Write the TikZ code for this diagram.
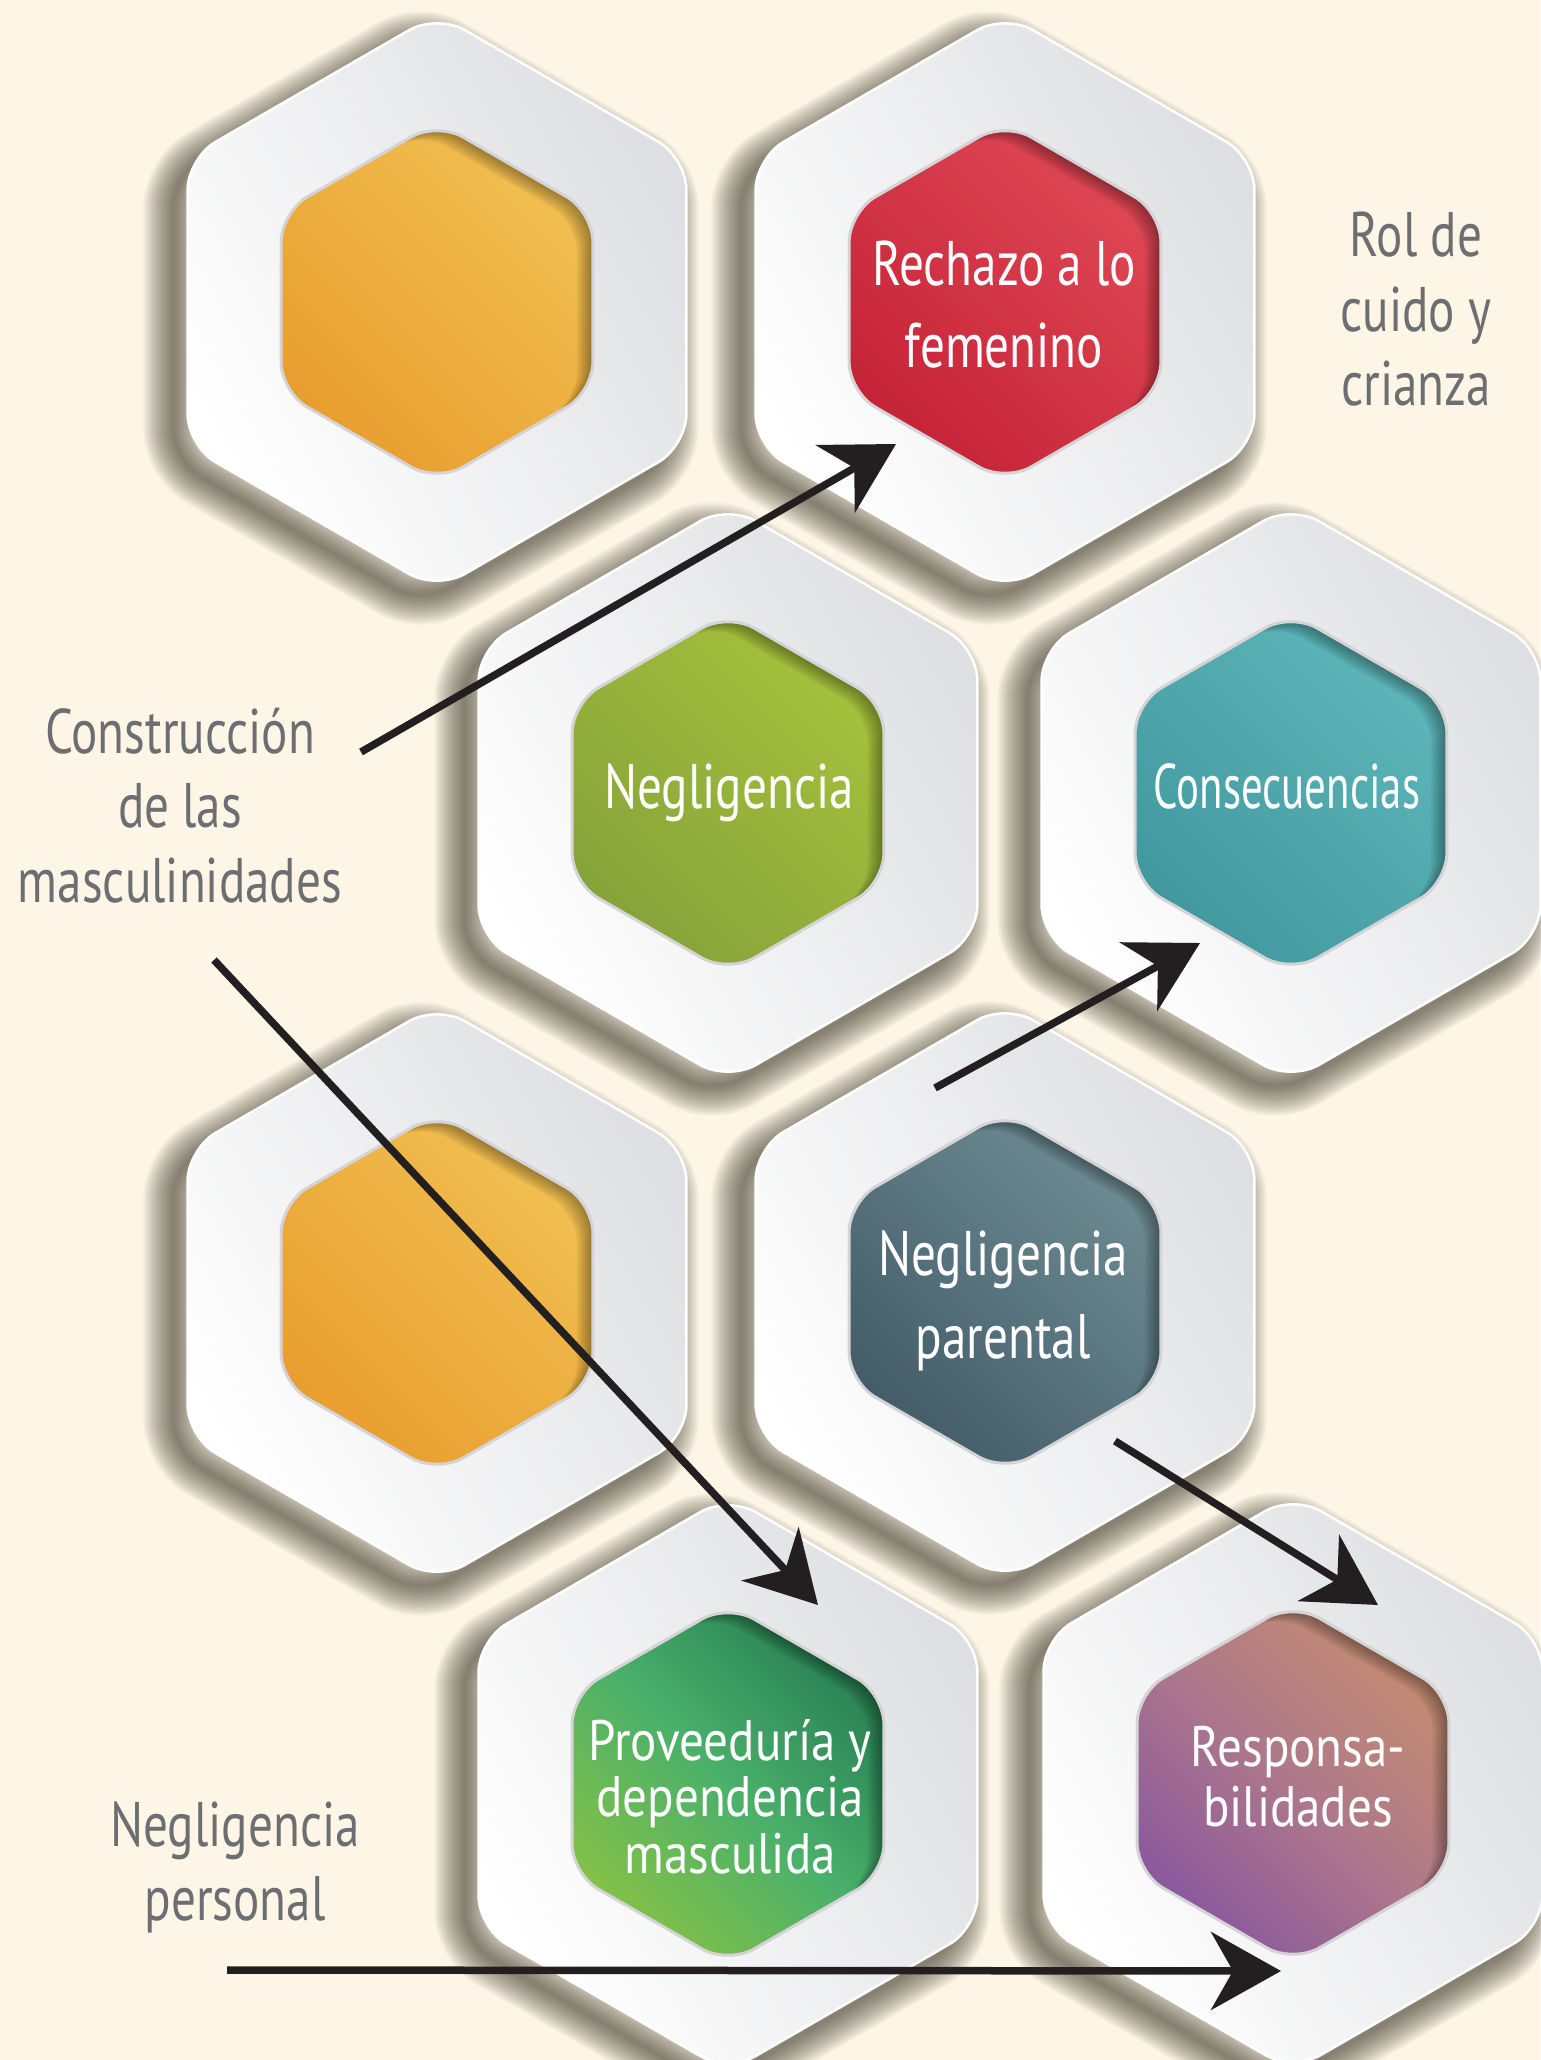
\documentclass[tikz,border=0pt]{standalone}
\usepackage{fontspec}
\setmainfont{PT Sans}[FakeStretch=0.78]
\newfontfamily\narrowfont{PT Sans}[FakeStretch=0.68]
\newfontfamily\widerfont{PT Sans}[FakeStretch=0.86]
\usetikzlibrary{arrows.meta}
\definecolor{bg}{RGB}{253,246,231}
\definecolor{txt}{RGB}{109,110,113}
\definecolor{arrowc}{RGB}{35,31,32}
\definecolor{shad}{RGB}{50,44,32}
\definecolor{plategray}{RGB}{222,223,226}
\definecolor{rimc}{RGB}{212,212,215}
\definecolor{yelD}{RGB}{232,158,46}
\definecolor{yelL}{RGB}{241,192,82}
\definecolor{redD}{RGB}{197,35,54}
\definecolor{redL}{RGB}{223,72,85}
\definecolor{grnD}{RGB}{134,163,59}
\definecolor{grnL}{RGB}{165,193,59}
\definecolor{tealD}{RGB}{65,153,159}
\definecolor{tealL}{RGB}{94,182,186}
\definecolor{slateD}{RGB}{67,92,104}
\definecolor{slateL}{RGB}{110,140,148}
\definecolor{gtwoA}{RGB}{132,193,71}
\definecolor{gtwoB}{RGB}{74,176,106}
\definecolor{gtwoC}{RGB}{40,128,84}
\definecolor{purA}{RGB}{138,88,158}
\definecolor{purB}{RGB}{174,120,138}
\definecolor{purC}{RGB}{196,140,112}
\newcommand{\linesstack}[2]{\vtop{\baselineskip=#1\lineskiplimit=-16000pt\lineskip=0pt\halign{\hfil##\hfil\cr#2\crcr}}}
\newcommand{\hexpathat}[3]{({#1+0.8660254*#3},{#2-0.5*#3}) -- ({#1},{#2-#3}) -- ({#1-0.8660254*#3},{#2-0.5*#3}) -- ({#1-0.8660254*#3},{#2+0.5*#3}) -- ({#1},{#2+#3}) -- ({#1+0.8660254*#3},{#2+0.5*#3}) -- cycle}
\newcommand{\hexcell}[4]{%
  \foreach \w in {3,6,...,60} {\path[shadowlayer, line width=\w pt] \hexpathat{#2-16}{#3+16}{286};}
  \path[outerplate] \hexpathat{#2}{#3}{288};
  \path[innerfill, #4] \hexpathat{#2}{#3}{180};
  \begin{scope}
    \clip[rounded corners=30pt] \hexpathat{#2}{#3}{180};
    \foreach \k in {2,4,...,16} {\fill[black, opacity=0.05, even odd rule, rounded corners=30pt] ({#2-260},{#3-260}) rectangle ({#2+260},{#3+260}) \hexpathat{#2-\k}{#3+0.6*\k}{180};}
  \end{scope}
  \draw[innerrim] \hexpathat{#2}{#3}{180};
  \coordinate (#1) at (#2,#3);
}
\begin{document}
\begin{tikzpicture}[x=1pt,y=-1pt,
  shadowlayer/.style={draw=shad, draw opacity=0.04, rounded corners=32pt, line join=round},
  outerplate/.style={rounded corners=32pt, left color=white, right color=plategray, shading angle=120, draw=white, line width=2.5pt},
  innerfill/.style={rounded corners=30pt},
  innerrim/.style={rounded corners=30pt, draw=rimc, line width=3pt},
  lab/.style={text=txt, font=\fontsize{63}{75}\selectfont, anchor=base, inner sep=0pt},
  wlab/.style={text=white, font=\fontsize{63}{75}\selectfont, anchor=base, inner sep=0pt},
  wsmall/.style={text=white, font=\widerfont\fontsize{57}{60}\selectfont, anchor=base, inner sep=0pt},
  arr/.style={draw=arrowc, line width=7.5pt, -{Stealth[length=70pt,width=78pt,inset=22pt]}}]
\useasboundingbox (0,0) rectangle (1540,2060);
\fill[bg] (0,0) rectangle (1540,2060);

\hexcell{hA}{437}{302}{left color=yelD, right color=yelL, shading angle=135}
\hexcell{hB}{1005}{302}{left color=redD, right color=redL, shading angle=135}
\hexcell{hC}{728}{793}{left color=grnD, right color=grnL, shading angle=135}
\hexcell{hD}{1291}{793}{left color=tealD, right color=tealL, shading angle=135}
\hexcell{hE}{437}{1293}{left color=yelD, right color=yelL, shading angle=135}
\hexcell{hF}{1005}{1292}{left color=slateD, right color=slateL, shading angle=135}
\hexcell{hG}{728}{1784}{left color=gtwoA, right color=gtwoC, middle color=gtwoB, shading angle=135}
\hexcell{hH}{1293}{1783}{left color=purA, right color=purC, middle color=purB, shading angle=135}

% labels outside
\node[lab] (rol) at (1416,257) {\linesstack{74.5pt}{Rol de\cr cuido y\cr crianza}};
\node[lab] (con) at (180,753) {\linesstack{74.5pt}{Construcción\cr de las\cr masculinidades}};
\node[lab] (per) at (235,1846) {\linesstack{74pt}{Negligencia\cr personal}};

% labels inside
\node[wlab] (rech) at (1004,285) {\linesstack{82pt}{Rechazo a lo\cr femenino}};
\node[wlab] (neg) at (729,808) {Negligencia};
\node[wlab] (cons) at (1287,808) {\narrowfont Consecuencias};
\node[wlab] (np) at (1003,1275) {\linesstack{83pt}{Negligencia\cr parental}};
\node[wsmall] (pro) at (730,1760) {\linesstack{56.5pt}{Proveeduría y\cr dependencia\cr masculida}};
\node[wsmall] (res) at (1298,1766) {\linesstack{60pt}{Responsa-\cr bilidades}};

% arrows
\coordinate (a1s) at (361,752);  \coordinate (a1e) at (896,444);
\coordinate (a2s) at (214,960);  \coordinate (a2e) at (818,1605);
\coordinate (a3s) at (935,1088); \coordinate (a3e) at (1200,943);
\coordinate (a4s) at (1115,1441);\coordinate (a4e) at (1378,1605);
\coordinate (a5s) at (227,1970); \coordinate (a5e) at (1281,1971);
\draw[arr] (a1s) -- (a1e);
\draw[arr] (a2s) -- (a2e);
\draw[arr] (a3s) -- (a3e);
\draw[arr] (a4s) -- (a4e);
\draw[arr] (a5s) -- (a5e);
\end{tikzpicture}
\end{document}
